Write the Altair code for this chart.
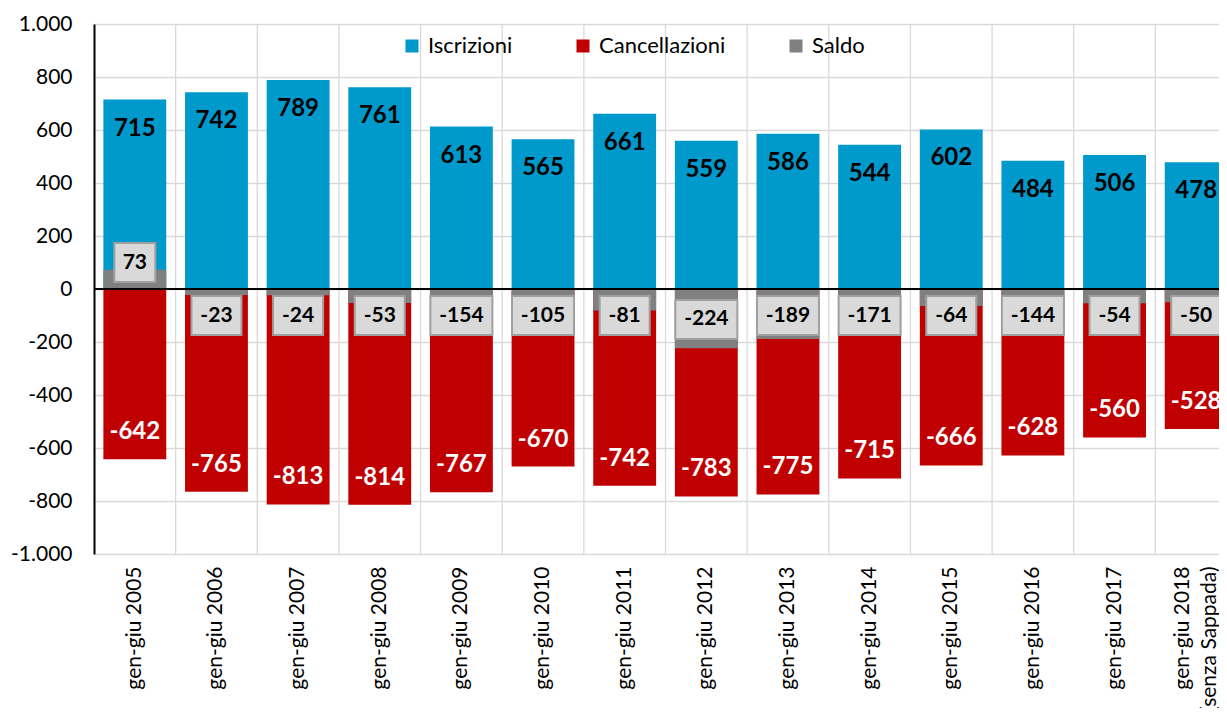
import altair as alt
import pandas as pd

cats = [
    "gen-giu 2005", "gen-giu 2006", "gen-giu 2007", "gen-giu 2008", "gen-giu 2009",
    "gen-giu 2010", "gen-giu 2011", "gen-giu 2012", "gen-giu 2013", "gen-giu 2014",
    "gen-giu 2015", "gen-giu 2016", "gen-giu 2017", "gen-giu 2018\n(senza Sappada)",
]
iscrizioni = [715, 742, 789, 761, 613, 565, 661, 559, 586, 544, 602, 484, 506, 478]
cancellazioni = [-642, -765, -813, -814, -767, -670, -742, -783, -775, -715, -666, -628, -560, -528]
saldo = [73, -23, -24, -53, -154, -105, -81, -224, -189, -171, -64, -144, -54, -50]

series_names = ["Iscrizioni", "Cancellazioni", "Saldo"]
series_colors = ["#0099cc", "#c00000", "#808080"]
y_ticks = [-1000, -800, -600, -400, -200, 0, 200, 400, 600, 800, 1000]

df = pd.DataFrame({"cat": cats, "Iscrizioni": iscrizioni,
                   "Cancellazioni": cancellazioni, "Saldo": saldo})

FONT = "Lato"

xenc = alt.X(
    "cat:N", sort=cats,
    scale=alt.Scale(range=[0, 1143], paddingInner=0, paddingOuter=0),
    axis=alt.Axis(title=None, labelAngle=-90, labelFont=FONT, labelFontSize=21,
                  labelColor="black", labelPadding=12, ticks=False, domain=False,
                  grid=False, labelExpr="split(datum.label, '\\n')", labelLineHeight=27,
                  labelOffset={"condition": {"test": "indexof(datum.value, 'Sappada') >= 0",
                                             "value": -13}, "value": 0}),
)
yscale = alt.Scale(domain=[-1000, 1000], nice=False, zero=False)
yaxis = alt.Axis(
    title=None, values=y_ticks, grid=True, gridColor="#d9d9d9", gridWidth=1.3,
    domainColor="black", domainWidth=2, ticks=False, labelPadding=22,
    labelFont=FONT, labelFontSize=21, labelColor="black",
    labelExpr="replace(replace(format(datum.value, ','), ',', '.'), '\u2212', '-')",
)
color = alt.Color(
    "series:N",
    scale=alt.Scale(domain=series_names, range=series_colors),
    legend=alt.Legend(title=None, orient="none", legendX=307, legendY=11,
                      direction="horizontal", symbolType="square", symbolSize=169,
                      symbolStrokeWidth=0, labelFontSize=22, labelFont=FONT,
                      labelColor="black", columnPadding=59, labelOffset=5, padding=0),
)

base = alt.Chart(df)

vgrid = base.transform_filter(
    alt.datum.cat != cats[0]
).mark_rule(color="#d9d9d9", strokeWidth=1.3).encode(
    x=alt.X("cat:N", sort=cats, bandPosition=0),
    y=alt.datum(-1000), y2=alt.datum(1000),
)

folded = base.transform_fold(["Iscrizioni", "Cancellazioni"], as_=["series", "value"])

bars = folded.mark_bar(width={"band": 0.77}).encode(
    x=xenc, y=alt.Y("value:Q", scale=yscale, axis=yaxis), color=color,
)

saldo_bars = base.transform_calculate(series="'Saldo'").mark_bar(
    width={"band": 0.77}
).encode(x=alt.X("cat:N", sort=cats), y=alt.Y("Saldo:Q"), color=color)

zero = alt.Chart(pd.DataFrame({"z": [0]})).mark_rule(color="black", strokeWidth=2).encode(
    y=alt.Y("z:Q")
)

isc_text = folded.transform_filter(alt.datum.series == "Iscrizioni").transform_calculate(
    lab="'' + datum.value"
).mark_text(font=FONT, fontWeight="bold", fontSize=24, color="black",
            baseline="middle", dy=29).encode(
    x=alt.X("cat:N", sort=cats), y=alt.Y("value:Q"), text="lab:N"
)
canc_text = folded.transform_filter(alt.datum.series == "Cancellazioni").transform_calculate(
    lab="'' + datum.value"
).mark_text(font=FONT, fontWeight="bold", fontSize=24, color="white",
            baseline="middle", dy=-27).encode(
    x=alt.X("cat:N", sort=cats), y=alt.Y("value:Q"), text="lab:N"
)

saldo_base = base.transform_calculate(
    slab="'' + datum.Saldo",
    pos="datum.Saldo >= 0 ? max(100, datum.Saldo - 109) : -max(100, -datum.Saldo - 109)",
)
box_layers = []
for n, w in [(2, 41), (3, 50), (4, 62)]:
    box_layers.append(
        saldo_base.transform_filter(f"length(datum.slab) == {n}").mark_bar(
            width=w, fill="#d9d9d9", stroke="#a0a0a0", strokeWidth=2,
            yOffset=-19.5, y2Offset=19.5,
        ).encode(x=alt.X("cat:N", sort=cats), y=alt.Y("pos:Q"), y2="pos:Q")
    )
saldo_text = saldo_base.mark_text(font=FONT, fontWeight="bold", fontSize=21,
                                  color="black", baseline="middle").encode(
    x=alt.X("cat:N", sort=cats), y=alt.Y("pos:Q"), text="slab:N"
)

chart = alt.layer(
    vgrid, bars, saldo_bars, zero, isc_text, canc_text, *box_layers, saldo_text
).properties(
    width=1125, height=530,
    autosize=alt.AutoSizeParams(type="none"),
    padding={"left": 86, "top": 16, "right": 0, "bottom": 154},
).configure_view(stroke=None)

chart.save("out.html", embed_options={"renderer": "svg", "actions": False})
